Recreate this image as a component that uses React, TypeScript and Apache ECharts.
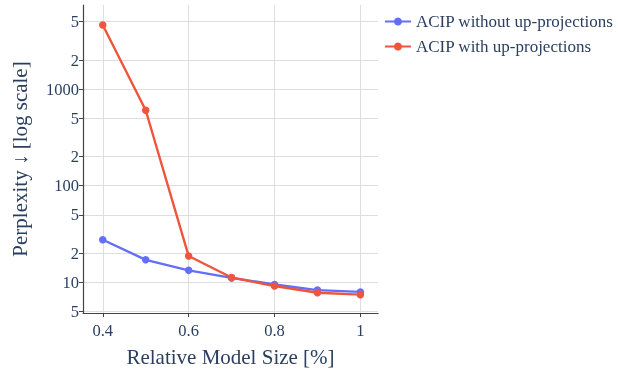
import React, { useEffect, useRef } from "react";
import * as echarts from "echarts";

const modelSizes = [0.4, 0.5, 0.6, 0.7, 0.8, 0.9, 1.0];
const withoutUp = [27.6, 17.1, 13.3, 11.1, 9.5, 8.3, 7.95];
const withUp = [4610, 604, 18.7, 11.2, 9.15, 7.8, 7.45];
const xTicks = [0.4, 0.6, 0.8, 1.0];
const yTicks = [5, 10, 20, 50, 100, 200, 500, 1000, 2000, 5000];
const seriesNames = ["ACIP without up-projections", "ACIP with up-projections"];

const FONT = "Liberation Serif";
const TXT = "#2a3f5f";

function fmtY(v: number): string {
  const n = Math.round(Math.pow(10, v));
  const p = Math.pow(10, Math.floor(Math.log10(n) + 1e-9));
  if (Math.abs(n - p) < 1e-6) return String(n);
  return String(Math.round(n / p));
}

export default function App() {
  const ref = useRef<HTMLDivElement>(null);
  useEffect(() => {
    if (!ref.current) return;
    const chart = echarts.init(ref.current, undefined, { renderer: "svg" });
    const toPts = (arr: number[]) => arr.map((v, i) => [modelSizes[i], Math.log10(v)]);
    chart.setOption({
      animation: false,
      textStyle: { fontFamily: FONT },
      grid: { left: 83, right: 240, top: 5, bottom: 59, containLabel: false },
      legend: {
        orient: "vertical",
        left: 384,
        top: 13,
        padding: 0,
        itemWidth: 26,
        itemHeight: 10,
        itemGap: 8,
        textStyle: { fontFamily: FONT, fontSize: 17, color: TXT },
        data: seriesNames,
      },
      xAxis: {
        type: "value",
        min: 0.354,
        max: 1.041,
        name: "Relative Model Size [%]",
        nameLocation: "middle",
        nameGap: 33,
        nameTextStyle: { fontFamily: FONT, fontSize: 21, color: TXT },
        axisLine: { show: true, lineStyle: { color: "#444", width: 1.2 } },
        axisTick: { show: true, length: 4, lineStyle: { color: "#444" }, customValues: xTicks },
        axisLabel: {
          customValues: xTicks,
          margin: 9,
          fontFamily: FONT,
          fontSize: 16.5,
          color: TXT,
          formatter: (v: number) => String(Math.round(v * 10) / 10),
        },
        splitLine: { show: true, lineStyle: { color: "#dedede", width: 1 } },
      },
      yAxis: {
        type: "value",
        min: Math.log10(4.81),
        max: Math.log10(7430),
        name: "Perplexity ↓ [log scale]",
        nameLocation: "middle",
        nameGap: 53,
        nameTextStyle: { fontFamily: FONT, fontSize: 21, color: TXT },
        axisLine: { show: true, lineStyle: { color: "#444", width: 1.2 } },
        axisTick: {
          show: true,
          length: 4,
          lineStyle: { color: "#444" },
          customValues: yTicks.map((t) => Math.log10(t)),
        },
        axisLabel: {
          customValues: yTicks.map((t) => Math.log10(t)),
          margin: 4,
          fontFamily: FONT,
          fontSize: 16.5,
          color: TXT,
          formatter: fmtY,
        },
        splitLine: { show: true, lineStyle: { color: "#dedede", width: 1 } },
      },
      series: [
        {
          name: seriesNames[0],
          type: "line",
          data: toPts(withoutUp),
          symbol: "circle",
          symbolSize: 7.5,
          lineStyle: { color: "#636efa", width: 2.4 },
          itemStyle: { color: "#636efa" },
        },
        {
          name: seriesNames[1],
          type: "line",
          data: toPts(withUp),
          symbol: "circle",
          symbolSize: 7.5,
          lineStyle: { color: "#EF553B", width: 2.4 },
          itemStyle: { color: "#EF553B" },
        },
      ],
    });
    return () => chart.dispose();
  }, []);
  return (
    <div
      ref={ref}
      style={{ position: "fixed", left: 0, top: 0, width: 618, height: 372 }}
    />
  );
}
